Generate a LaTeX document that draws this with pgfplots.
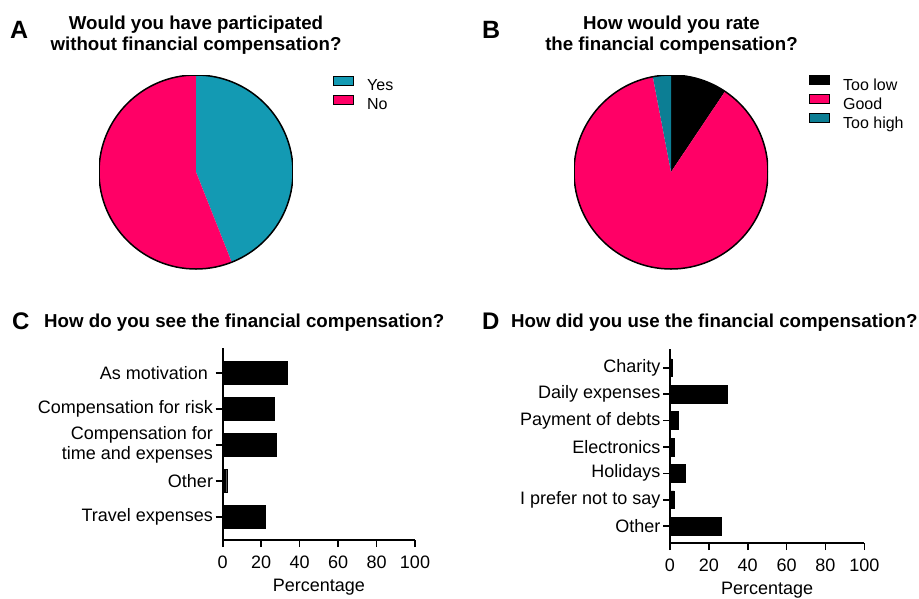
\documentclass[border=0pt]{standalone}
\usepackage{pgfplots}
\pgfplotsset{compat=1.18}
\usepackage{pgfplotstable}
\usepackage{fontspec}
\setmainfont{Liberation Sans}
\definecolor{yesc}{HTML}{139AB3}
\definecolor{pinkc}{HTML}{FF0066}
\definecolor{highc}{HTML}{0C7E94}

\pgfplotstableread{
answer pct
Yes 44
No 56
}\pieA
\pgfplotstableread{
answer pct
TooLow 9.4
Good 87.6
TooHigh 3.0
}\pieB

\pgfplotsset{
  pielegend/.style={
    legend style={draw=none, fill=none, inner sep=0pt, anchor=north west,
      font=\fontsize{16}{18}\selectfont, row sep=0pt, column sep=13pt,
      cells={anchor=west}, nodes={inner sep=0pt, text height=12pt, text depth=4pt}},
    legend image code/.code={\draw[##1, line width=1pt] (0pt,1.5pt) rectangle (20pt,10.5pt);},
  },
  barax/.style={
    scale only axis, xbar, xmin=0, xmax=100,
    axis x line*=bottom, axis y line*=left,
    axis line style={line width=1.6pt, black},
    tick style={line width=1.6pt, black},
    tick align=outside, major tick length=7pt,
    xtick={0,20,...,100}, ytick=data,
    /pgf/number format/assume math mode=true,
    ticklabel style={font=\fontsize{18}{20}\selectfont},
    yticklabel style={align=right, inner sep=2.5pt},
    xticklabel style={inner sep=3pt, yshift=-6pt},
    xlabel={Percentage}, xlabel style={font=\fontsize{18}{20}\selectfont, inner sep=2pt, yshift=-5pt},
    clip=false,
  },
}

\begin{document}
\begin{tikzpicture}
\useasboundingbox (0,0) rectangle (919pt,-598pt);

\pgfplotstablegetelem{0}{pct}\of\pieA
\pgfmathsetmacro\aYes{90-3.6*\pgfplotsretval}
\pgfmathsetmacro\aYesX{cos(\aYes)}
\pgfmathsetmacro\aYesY{sin(\aYes)}
\pgfplotstablegetelem{0}{pct}\of\pieB
\pgfmathsetmacro\bLow{90-3.6*\pgfplotsretval}
\pgfmathsetmacro\bLowX{cos(\bLow)}
\pgfmathsetmacro\bLowY{sin(\bLow)}
\pgfplotstablegetelem{1}{pct}\of\pieB
\pgfmathsetmacro\bGood{\bLow-3.6*\pgfplotsretval}
\pgfmathsetmacro\bGoodX{cos(\bGood)}
\pgfmathsetmacro\bGoodY{sin(\bGood)}

% Titles
\tikzset{panel/.style={anchor=base west, inner sep=0pt, font=\fontsize{25}{30}\selectfont\bfseries},
         ttl/.style={inner sep=0pt, font=\fontsize{18.7}{22}\selectfont\bfseries}}
\node[panel] at (10pt,-38pt) {A};
\node[ttl, anchor=base] at (196pt,-29pt) {Would you have participated};
\node[ttl, anchor=base] at (196pt,-50pt) {without financial compensation?};
\node[panel] at (482pt,-38pt) {B};
\node[ttl, anchor=base] at (671.5pt,-29pt) {How would you rate};
\node[ttl, anchor=base] at (671.5pt,-50pt) {the financial compensation?};
\node[panel, font=\fontsize{24}{28}\selectfont\bfseries] at (12pt,-329pt) {C};
\node[ttl, anchor=base west] at (44pt,-327pt) {How do you see the financial compensation?};
\node[panel, font=\fontsize{24}{28}\selectfont\bfseries] at (482pt,-329pt) {D};
\node[ttl, anchor=base west] at (511pt,-327pt) {How did you use the financial compensation?};

% Pie A
\begin{axis}[hide axis, scale only axis, width=194pt, height=194pt,
  xmin=-1, xmax=1, ymin=-1, ymax=1, at={(99pt,-269pt)}, anchor=south west,
  pielegend, legend style={at={(axis description cs:1.206,0.998)}}]
  \addlegendimage{fill=yesc, draw=black}\addlegendentry{Yes}
  \addlegendimage{fill=pinkc, draw=black}\addlegendentry{No}
  \fill[yesc] (axis cs:0,0) -- (axis cs:0,1) arc[start angle=90, end angle=\aYes, radius=97pt] -- cycle;
  \fill[pinkc] (axis cs:0,0) -- (axis cs:\aYesX,\aYesY) arc[start angle=\aYes, end angle=-270, radius=97pt] -- cycle;
  \draw[line width=1.5pt] (axis cs:0,0) circle[radius=97pt];
\end{axis}

% Pie B
\begin{axis}[hide axis, scale only axis, width=194pt, height=194pt,
  xmin=-1, xmax=1, ymin=-1, ymax=1, at={(574pt,-269pt)}, anchor=south west,
  pielegend, legend style={at={(axis description cs:1.211,1.0)}}]
  \addlegendimage{fill=black, draw=black}\addlegendentry{Too low}
  \addlegendimage{fill=pinkc, draw=black}\addlegendentry{Good}
  \addlegendimage{fill=highc, draw=black}\addlegendentry{Too high}
  \fill[black] (axis cs:0,0) -- (axis cs:0,1) arc[start angle=90, end angle=\bLow, radius=97pt] -- cycle;
  \fill[pinkc] (axis cs:0,0) -- (axis cs:\bLowX,\bLowY) arc[start angle=\bLow, end angle=\bGood, radius=97pt] -- cycle;
  \fill[highc] (axis cs:0,0) -- (axis cs:\bGoodX,\bGoodY) arc[start angle=\bGood, end angle=-270, radius=97pt] -- cycle;
  \draw[line width=1.5pt] (axis cs:0,0) circle[radius=97pt];
\end{axis}

% Bar C
\begin{axis}[barax, at={(222.7pt,-540pt)}, anchor=south west,
  width=192.3pt, height=192pt, ymin=-0.64, ymax=4.69, bar width=0.65,
  yticklabels={Travel expenses, Other, {Compensation for\\time and expenses}, Compensation for risk, As motivation~}]
  \addplot[fill=black, draw=black] coordinates {(22.2,0) (2.1,1) (27.7,2) (27.0,3) (33.6,4)};
\end{axis}

% Bar D
\begin{axis}[barax, at={(670pt,-543pt)}, anchor=south west,
  width=194.3pt, height=194pt, ymin=-0.64, ymax=6.71, bar width=0.67,
  yticklabels={Other, I prefer not to say, Holidays, Electronics, Payment of debts, Daily expenses, Charity}]
  \addplot[fill=black, draw=black] coordinates {(26.4,0) (2.1,1) (7.9,2) (2.1,3) (4.3,4) (29.3,5) (1.0,6)};
\end{axis}
\end{tikzpicture}
\end{document}
